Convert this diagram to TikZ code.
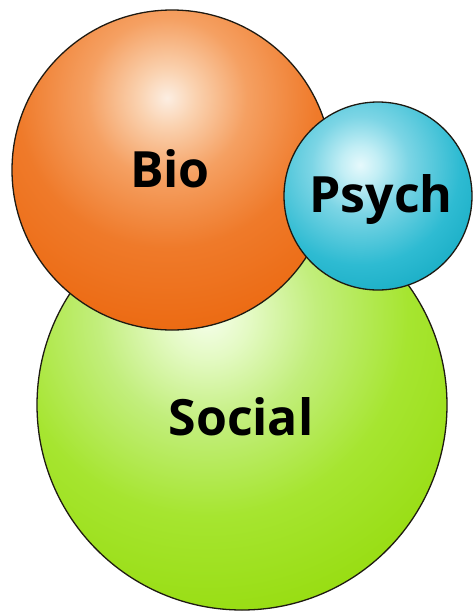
\documentclass[tikz,border=0pt]{standalone}
\usepackage{fontspec}
\setmainfont{Open Sans}
\definecolor{bioA}{HTML}{FCEEE2}
\definecolor{bioB}{HTML}{FAD2B0}
\definecolor{bioC}{HTML}{F5A062}
\definecolor{bioD}{HTML}{EF7A2A}
\definecolor{bioE}{HTML}{EC6A12}
\definecolor{psyA}{HTML}{E6F9FC}
\definecolor{psyB}{HTML}{C2EEF5}
\definecolor{psyC}{HTML}{7CD5E5}
\definecolor{psyD}{HTML}{2EBBD2}
\definecolor{psyE}{HTML}{1AAEC6}
\definecolor{socA}{HTML}{F6FEEC}
\definecolor{socB}{HTML}{E4FAC4}
\definecolor{socC}{HTML}{C2EE7C}
\definecolor{socD}{HTML}{A6E530}
\definecolor{socE}{HTML}{98DD12}
\definecolor{rim}{HTML}{1E1A12}
\pgfdeclareradialshading{bioshade}{\pgforigin}{color(0bp)=(bioA); color(3bp)=(bioB); color(8.5bp)=(bioC); color(16bp)=(bioD); color(25bp)=(bioE); color(50bp)=(bioE)}
\pgfdeclareradialshading{psyshade}{\pgforigin}{color(0bp)=(psyA); color(3.5bp)=(psyB); color(9bp)=(psyC); color(18.5bp)=(psyD); color(25bp)=(psyE); color(50bp)=(psyE)}
\pgfdeclareradialshading{socshade}{\pgforigin}{color(0bp)=(socA); color(3.5bp)=(socB); color(9bp)=(socC); color(16.5bp)=(socD); color(25bp)=(socE); color(50bp)=(socE)}
\begin{document}
\begin{tikzpicture}[x=1pt,y=-1pt,
  ball/.style={circle, draw=rim, line width=1.3pt, inner sep=0pt},
  lbl/.style={anchor=base, font=\bfseries\fontsize{50}{50}\selectfont, text=black, inner sep=0pt}]
\useasboundingbox[fill=white] (0,0) rectangle (475,614);
\node[ball, fill=socE, minimum size=410pt,
  path picture={\shade[shading=socshade] ([shift={(-35,-90)}]path picture bounding box.center) circle (305pt);}] (social) at (242,405) {};
\node[ball, fill=bioE, minimum size=320pt,
  path picture={\shade[shading=bioshade] ([shift={(-5,-72)}]path picture bounding box.center) circle (235pt);}] (bio) at (172,170) {};
\node[ball, fill=psyE, minimum size=188pt,
  path picture={\shade[shading=psyshade] ([shift={(-18,-31)}]path picture bounding box.center) circle (135pt);}] (psych) at (378,196) {};
\node[lbl] (biotxt) at (170,187) {Bio};
\node[lbl] (psychtxt) at (381,212) {Psych};
\node[lbl] (socialtxt) at (241,435) {Social};
\end{tikzpicture}
\end{document}
